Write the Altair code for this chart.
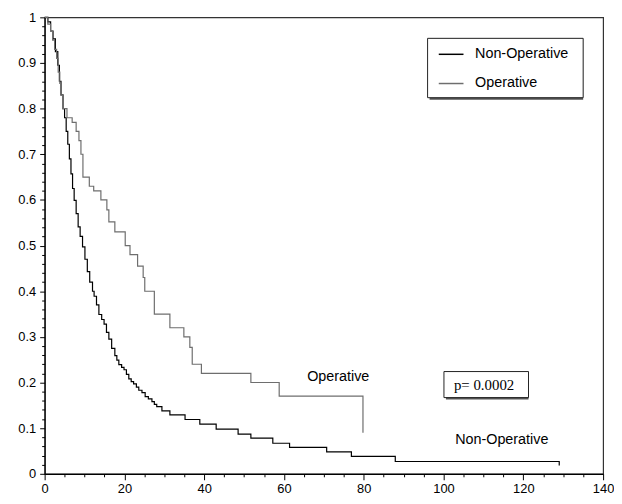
import altair as alt
import pandas as pd

# Kaplan-Meier step curves (time in months, survival proportion)
op_t = [0, 0.8, 1.5, 2.0, 2.5, 3.0, 3.4, 3.8, 4.0, 4.5, 5.6, 6.9, 7.9, 8.6, 9.1, 9.6,
        11.2, 12.3, 14.1, 15.6, 16.1, 17.6, 20.2, 21.4, 23.3, 24.7, 25.1, 27.5, 31.4,
        34.9, 36.4, 37.0, 39.3, 51.7, 58.8, 79.8]
op_s = [1.0, 0.985, 0.97, 0.95, 0.93, 0.91, 0.88, 0.855, 0.83, 0.80, 0.78, 0.77, 0.75,
        0.73, 0.70, 0.65, 0.63, 0.62, 0.60, 0.578, 0.552, 0.53, 0.50, 0.48, 0.455, 0.43,
        0.40, 0.35, 0.32, 0.30, 0.277, 0.24, 0.22, 0.20, 0.17, 0.09]

non_t = [0, 0.8, 1.5, 2.1, 2.7, 3.3, 3.7, 4.1, 4.6, 5.0, 5.4, 5.8, 6.2, 6.6, 7.0, 7.4,
         7.9, 8.4, 8.9, 9.5, 10.1, 10.7, 11.3, 12.0, 12.4, 13.0, 13.6, 14.3, 14.9, 15.5,
         16.1, 16.8, 17.6, 18.1, 18.6, 19.3, 19.9, 20.5, 21.1, 21.7, 22.3, 23.0, 23.6,
         24.4, 25.2, 26.0, 26.9, 27.5, 28.1, 29.4, 31.4, 35.2, 38.9, 43.0, 48.5, 51.7,
         57.2, 61.4, 70.7, 76.9, 87.9, 129.0]
non_s = [1.0, 0.99, 0.97, 0.953, 0.925, 0.895, 0.86, 0.83, 0.80, 0.78, 0.75, 0.722, 0.69,
         0.657, 0.625, 0.599, 0.57, 0.541, 0.52, 0.497, 0.47, 0.443, 0.42, 0.40, 0.389,
         0.37, 0.349, 0.338, 0.328, 0.31, 0.295, 0.275, 0.259, 0.249, 0.239, 0.233, 0.228,
         0.218, 0.208, 0.202, 0.197, 0.19, 0.183, 0.178, 0.169, 0.164, 0.158, 0.152, 0.147,
         0.138, 0.129, 0.119, 0.109, 0.098, 0.087, 0.078, 0.067, 0.058, 0.048, 0.038,
         0.027, 0.018]

groups = ["Non-Operative", "Operative"]
colors = ["#000000", "#6e6e6e"]

# legend (drawn in data space, top-right box)
leg_box_t = [96.0, 135.0]
leg_box_s = [0.824, 0.954]
leg_line_t = [98.8, 105.0]
leg_line_s = [0.919, 0.855]
leg_text_t = 107.9

# curve annotations
ann_text = ["Operative", "Non-Operative"]
ann_t = [73.6, 114.6]
ann_s = [0.213, 0.074]

# p-value box
p_text = ["p= 0.0002"]
p_box_t = [100.1, 121.3]
p_box_s = [0.167, 0.224]
p_text_t = [102.6]
p_text_s = [0.195]

x_ticks = list(range(0, 141, 5))
y_ticks = [round(i * 0.02, 2) for i in range(51)]

df = pd.concat([
    pd.DataFrame({"t": non_t, "s": non_s, "g": groups[0], "o": range(len(non_t))}),
    pd.DataFrame({"t": op_t, "s": op_s, "g": groups[1], "o": range(len(op_t))}),
])

major_y = "abs(datum.value*10 - round(datum.value*10)) < 0.001"
major_x = "datum.value % 20 === 0"

x_enc = alt.X("t:Q", scale=alt.Scale(domain=[0, 140], nice=False),
              axis=alt.Axis(title=None, values=x_ticks, tickCount=len(x_ticks),
                            labelExpr=f"{major_x} ? datum.label : ''",
                            tickSize={"condition": {"test": major_x, "value": 6}, "value": 3},
                            labelPadding=3, labelFlush=False, labelOverlap=False))
y_enc = alt.Y("s:Q", scale=alt.Scale(domain=[0, 1], nice=False),
              axis=alt.Axis(title=None, values=y_ticks, tickCount=len(y_ticks),
                            labelExpr=f"{major_y} ? format(datum.value, '~g') : ''",
                            tickSize={"condition": {"test": major_y, "value": 5}, "value": 3},
                            labelPadding=4, labelFlush=False, labelOverlap=False))

color_scale = alt.Scale(domain=groups, range=colors)

lines = alt.Chart(df).mark_line(interpolate="step-after", strokeWidth=1.2).encode(
    x=x_enc, y=y_enc, order="o:Q",
    color=alt.Color("g:N", scale=color_scale, legend=None),
)

def box(t, s, name):
    d = pd.DataFrame({"t1": [t[0]], "t2": [t[1]], "s1": [s[0]], "s2": [s[1]], "n": [name]})
    shadow = alt.Chart(d).mark_rect(fill="#555555", xOffset=2, yOffset=2).encode(
        x="t1:Q", x2="t2:Q", y="s1:Q", y2="s2:Q")
    face = alt.Chart(d).mark_rect(fill="white", stroke="#222222", strokeWidth=1).encode(
        x="t1:Q", x2="t2:Q", y="s1:Q", y2="s2:Q")
    return shadow + face

leg_df = pd.DataFrame({"t1": [leg_line_t[0]] * 2, "t2": [leg_line_t[1]] * 2,
                       "s": leg_line_s, "g": groups, "tt": [leg_text_t] * 2})
leg_lines = alt.Chart(leg_df).mark_rule(strokeWidth=1.5).encode(
    x="t1:Q", x2="t2:Q", y="s:Q", color=alt.Color("g:N", scale=color_scale, legend=None))
leg_labels = alt.Chart(leg_df).mark_text(
    font="Liberation Sans", fontSize=14.5, color="black", align="left", baseline="middle"
).encode(x="tt:Q", y="s:Q", text="g:N")

ann = alt.Chart(pd.DataFrame({"t": ann_t, "s": ann_s, "txt": ann_text})).mark_text(
    font="Liberation Sans", fontSize=14.5, color="black", align="center", baseline="middle"
).encode(x="t:Q", y="s:Q", text="txt:N")

ptxt = alt.Chart(pd.DataFrame({"t": p_text_t, "s": p_text_s, "txt": p_text})).mark_text(
    font="Liberation Serif", fontSize=15, color="black", align="left", baseline="middle"
).encode(x="t:Q", y="s:Q", text="txt:N")

chart = alt.layer(
    lines, box(p_box_t, p_box_s, "p"), ptxt, ann,
    box(leg_box_t, leg_box_s, "legend"), leg_lines, leg_labels,
).properties(
    width=564, height=461, autosize="none",
    padding={"left": 37, "top": 7, "right": 11, "bottom": 22},
    background="white",
).configure_view(stroke="#333333", strokeWidth=1.2).configure_axis(
    domainColor="black", tickColor="black", labelColor="black",
    labelFont="Liberation Sans", labelFontSize=13, grid=False, domainWidth=1.2,
)

chart.save("out.html", embed_options={"renderer": "svg", "actions": False})
